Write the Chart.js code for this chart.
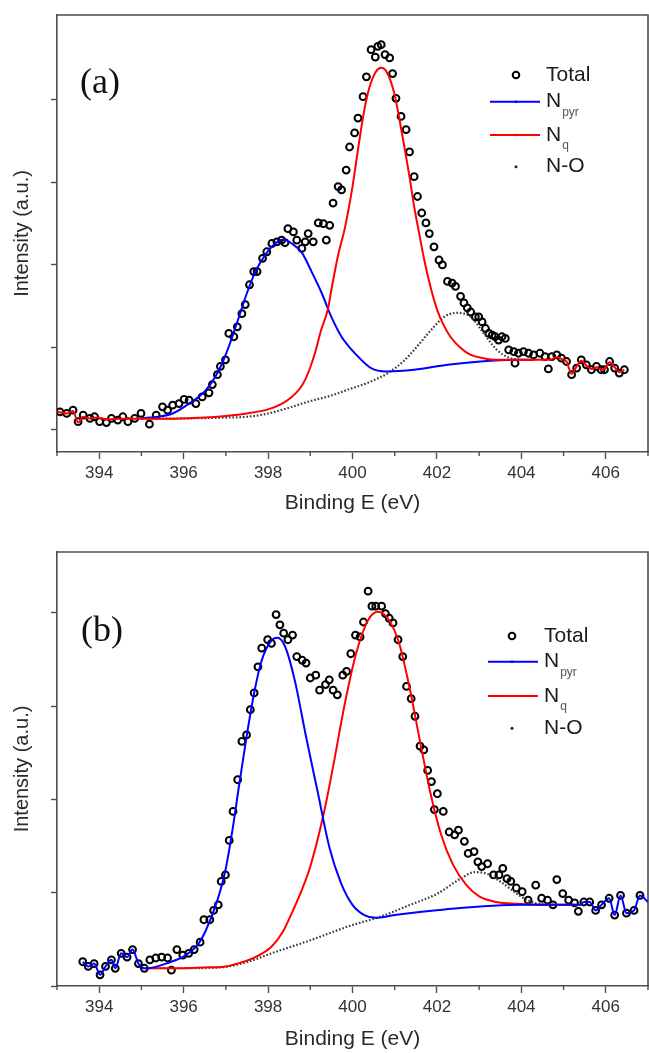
<!DOCTYPE html>
<html><head><meta charset="utf-8">
<script src="https://cdn.jsdelivr.net/npm/chart.js@4/dist/chart.umd.min.js"></script>
<style>
html,body{margin:0;padding:0;background:#fff;}
#wrap{position:relative;width:649px;height:1053px;overflow:hidden;background:#fff;}
canvas{position:absolute;left:0;}
</style></head><body>
<div id="wrap">
<canvas id="ca" width="649" height="527" style="top:0px"></canvas>
<canvas id="cb" width="649" height="526" style="top:527px"></canvas>
</div>
<script>
// ---------- data ----------
const energyTicks = [394,396,398,400,402,404,406];
const energyMinorTicks = [393,395,397,399,401,403,405,407];
const intensityTicks = [0,1,2,3,4];
const seriesNames = ['Total','N','N','N-O'];
const seriesSubs = ['','pyr','q',''];

// panel (a)
const totalA = [[393.07,0.22],[393.23,0.20],[393.38,0.24],[393.50,0.10],[393.62,0.18],[393.78,0.14],[393.89,0.16],[394.01,0.10],[394.17,0.09],[394.29,0.14],[394.44,0.12],[394.56,0.16],[394.68,0.10],[394.84,0.14],[394.99,0.20],[395.19,0.07],[395.35,0.18],[395.50,0.28],[395.62,0.24],[395.74,0.30],[395.89,0.32],[396.01,0.37],[396.13,0.36],[396.29,0.32],[396.44,0.40],[396.60,0.45],[396.68,0.55],[396.80,0.67],[396.87,0.77],[396.99,0.85],[397.07,1.17],[397.19,1.13],[397.27,1.25],[397.38,1.41],[397.46,1.52],[397.56,1.76],[397.66,1.92],[397.74,1.92],[397.87,2.08],[397.97,2.16],[398.09,2.26],[398.21,2.28],[398.32,2.30],[398.40,2.27],[398.47,2.44],[398.60,2.40],[398.68,2.30],[398.80,2.20],[398.88,2.28],[398.95,2.38],[399.07,2.28],[399.19,2.51],[399.31,2.50],[399.38,2.30],[399.46,2.48],[399.54,2.75],[399.66,2.95],[399.74,2.91],[399.85,3.15],[399.93,3.43],[400.05,3.60],[400.13,3.78],[400.25,4.04],[400.33,4.28],[400.44,4.61],[400.54,4.52],[400.60,4.65],[400.68,4.67],[400.77,4.55],[400.88,4.51],[400.95,4.32],[401.03,4.02],[401.15,3.80],[401.27,3.64],[401.35,3.37],[401.46,3.07],[401.54,2.83],[401.64,2.63],[401.74,2.51],[401.82,2.38],[401.93,2.22],[402.05,2.06],[402.13,2.00],[402.25,1.80],[402.36,1.78],[402.44,1.74],[402.56,1.62],[402.64,1.54],[402.72,1.48],[402.80,1.43],[402.91,1.37],[402.99,1.37],[403.07,1.31],[403.15,1.23],[403.23,1.17],[403.31,1.15],[403.38,1.13],[403.46,1.09],[403.54,1.13],[403.62,1.11],[403.70,0.97],[403.82,0.95],[403.85,0.81],[403.93,0.93],[404.05,0.95],[404.17,0.93],[404.29,0.91],[404.44,0.93],[404.56,0.89],[404.64,0.74],[404.72,0.89],[404.84,0.91],[404.95,0.87],[405.07,0.83],[405.19,0.67],[405.31,0.75],[405.42,0.85],[405.54,0.79],[405.66,0.73],[405.78,0.77],[405.89,0.73],[405.97,0.73],[406.09,0.83],[406.21,0.75],[406.32,0.69],[406.44,0.73]];
const pyrA = [[395.0,0.145],[395.2,0.15],[395.74,0.20],[396.13,0.32],[396.52,0.48],[396.84,0.73],[397.07,1.01],[397.31,1.37],[397.50,1.66],[397.70,1.92],[397.93,2.12],[398.17,2.26],[398.36,2.31],[398.56,2.26],[398.80,2.15],[399.03,1.92],[399.27,1.66],[399.50,1.37],[399.74,1.13],[400.13,0.89],[400.44,0.75],[400.80,0.71],[401.46,0.73],[402.25,0.79],[403.03,0.83],[403.82,0.85],[404.30,0.85]];
const qA = [[393.00,0.22],[393.12,0.21],[393.25,0.20],[393.38,0.23],[393.50,0.09],[393.62,0.16],[393.78,0.14],[393.95,0.15],[394.20,0.13],[394.50,0.135],[395.50,0.135],[396.50,0.15],[397.00,0.17],[397.50,0.20],[398.00,0.25],[398.30,0.31],[398.56,0.40],[398.75,0.50],[398.88,0.61],[399.00,0.76],[399.11,0.93],[399.25,1.20],[399.42,1.47],[399.50,1.70],[399.66,2.12],[399.82,2.45],[400.00,2.95],[400.13,3.40],[400.27,3.85],[400.40,4.15],[400.55,4.34],[400.68,4.39],[400.82,4.33],[400.99,4.08],[401.10,3.80],[401.23,3.43],[401.35,3.07],[401.46,2.71],[401.58,2.38],[401.70,2.06],[401.85,1.73],[402.01,1.45],[402.15,1.28],[402.32,1.13],[402.55,1.00],[402.80,0.91],[403.10,0.87],[403.42,0.85],[404.00,0.85],[404.68,0.85],[404.84,0.88],[404.95,0.86],[405.07,0.83],[405.19,0.68],[405.31,0.77],[405.42,0.84],[405.54,0.78],[405.66,0.74],[405.78,0.76],[405.89,0.73],[405.97,0.74],[406.09,0.82],[406.21,0.76],[406.32,0.70],[406.44,0.73]];
const noA = [[395.0,0.135],[396.0,0.14],[397.0,0.15],[397.5,0.16],[398.0,0.20],[398.5,0.27],[399.0,0.35],[399.45,0.41],[399.9,0.49],[400.4,0.58],[400.84,0.69],[401.2,0.83],[401.46,0.97],[401.86,1.21],[402.17,1.37],[402.48,1.42],[402.80,1.37],[403.11,1.17],[403.42,0.97],[403.74,0.87],[404.0,0.85]];

// panel (b)
const totalB = [[393.61,0.26],[393.74,0.21],[393.88,0.24],[394.02,0.12],[394.15,0.21],[394.29,0.28],[394.38,0.19],[394.52,0.35],[394.66,0.31],[394.79,0.39],[394.93,0.24],[395.07,0.19],[395.20,0.28],[395.34,0.30],[395.48,0.31],[395.62,0.30],[395.71,0.17],[395.84,0.39],[395.98,0.33],[396.12,0.35],[396.25,0.39],[396.39,0.47],[396.48,0.71],[396.62,0.71],[396.71,0.81],[396.82,0.87],[396.89,1.12],[396.99,1.19],[397.08,1.56],[397.17,1.87],[397.28,2.21],[397.38,2.62],[397.49,2.69],[397.58,2.96],[397.67,3.14],[397.76,3.42],[397.85,3.62],[397.99,3.71],[398.08,3.67],[398.19,3.98],[398.28,3.87],[398.37,3.78],[398.47,3.71],[398.58,3.76],[398.68,3.53],[398.81,3.49],[398.90,3.46],[399.00,3.30],[399.13,3.33],[399.22,3.17],[399.36,3.23],[399.45,3.28],[399.54,3.17],[399.64,3.12],[399.77,3.33],[399.86,3.37],[399.96,3.56],[400.07,3.76],[400.18,3.74],[400.26,3.90],[400.37,4.23],[400.46,4.07],[400.55,4.07],[400.69,4.07],[400.78,3.99],[400.87,3.94],[400.96,3.89],[401.08,3.71],[401.19,3.53],[401.28,3.21],[401.39,3.08],[401.48,2.89],[401.60,2.57],[401.69,2.53],[401.78,2.31],[401.87,2.19],[401.94,1.89],[402.01,2.06],[402.15,1.87],[402.29,1.65],[402.42,1.62],[402.51,1.67],[402.65,1.55],[402.74,1.42],[402.88,1.44],[402.97,1.33],[403.06,1.28],[403.20,1.31],[403.34,1.19],[403.47,1.19],[403.56,1.26],[403.66,1.15],[403.75,1.12],[403.88,1.05],[404.02,1.01],[404.16,0.92],[404.34,1.08],[404.48,0.94],[404.62,0.92],[404.75,0.87],[404.84,1.14],[404.98,0.99],[405.12,0.92],[405.26,0.89],[405.35,0.80],[405.48,0.90],[405.62,0.90],[405.76,0.81],[405.90,0.87],[406.08,0.94],[406.21,0.76],[406.35,0.97],[406.49,0.78],[406.67,0.81],[406.81,0.97]];
const pyrB = [[393.61,0.26],[393.74,0.21],[393.88,0.24],[394.02,0.12],[394.15,0.21],[394.29,0.28],[394.38,0.19],[394.52,0.35],[394.66,0.31],[394.79,0.39],[394.93,0.24],[395.07,0.19],[395.11,0.19],[395.58,0.24],[396.05,0.33],[396.36,0.46],[396.53,0.60],[396.80,0.92],[396.99,1.24],[397.17,1.71],[397.31,2.14],[397.49,2.67],[397.67,3.14],[397.85,3.49],[398.06,3.69],[398.22,3.73],[398.40,3.64],[398.63,3.28],[398.90,2.67],[399.18,2.07],[399.45,1.49],[399.73,1.10],[400.0,0.87],[400.28,0.76],[400.55,0.73],[401.0,0.76],[402.19,0.82],[404.02,0.87],[405.39,0.87],[405.48,0.90],[405.62,0.90],[405.76,0.81],[405.90,0.87],[406.08,0.94],[406.21,0.76],[406.35,0.97],[406.49,0.78],[406.67,0.81],[406.81,0.97],[407.0,0.90]];
const qB = [[395.1,0.19],[396.0,0.19],[396.6,0.20],[397.0,0.21],[397.35,0.25],[397.7,0.31],[398.08,0.42],[398.35,0.58],[398.54,0.76],[398.8,1.03],[399.0,1.28],[399.32,1.85],[399.54,2.35],[399.82,3.03],[400.09,3.57],[400.37,3.92],[400.6,4.01],[400.85,3.93],[401.1,3.68],[401.35,3.20],[401.6,2.62],[401.85,2.06],[402.1,1.62],[402.38,1.30],[402.7,1.08],[403.0,0.96],[403.4,0.90],[403.9,0.88],[404.5,0.87],[405.4,0.87]];
const noB = [[395.1,0.19],[396.0,0.19],[396.89,0.20],[397.53,0.26],[398.08,0.35],[399.0,0.49],[399.91,0.64],[400.64,0.74],[401.37,0.87],[402.01,0.99],[402.56,1.15],[402.9,1.22],[403.2,1.20],[403.5,1.12],[403.8,1.02],[404.1,0.93],[404.4,0.88],[404.8,0.87]];

// ---------- styling ----------
const SANS = "'Liberation Sans', Arial, sans-serif";
const SERIF = "'Liberation Serif', 'Times New Roman', serif";
const AXIS = '#4d4d4d';
const toPts = arr => arr.map(p => ({x:p[0], y:p[1]}));

const framePlugin = {
  id:'frame',
  beforeDatasetsDraw(chart){
    const {ctx, chartArea:a, scales} = chart;
    ctx.save();
    ctx.strokeStyle = AXIS; ctx.lineWidth = 1.6;
    ctx.beginPath();
    ctx.moveTo(a.left, a.top); ctx.lineTo(a.right, a.top); ctx.lineTo(a.right, a.bottom);
    ctx.stroke();
    ctx.lineWidth = 1.4;
    energyMinorTicks.forEach(v => {
      const x = scales.x.getPixelForValue(v);
      ctx.beginPath(); ctx.moveTo(x, a.bottom); ctx.lineTo(x, a.bottom + 4); ctx.stroke();
    });
    ctx.restore();
  }
};

const legendPlugin = {
  id:'xpsLegend',
  afterDraw(chart, args, o){
    const ctx = chart.ctx;
    ctx.save();
    ctx.fillStyle = '#111';
    ctx.font = '36px ' + SERIF;
    ctx.textBaseline = 'middle'; ctx.textAlign = 'left';
    ctx.fillText(o.label, o.labelX, o.labelY);
    const rows = o.rows;
    ctx.strokeStyle = '#000'; ctx.lineWidth = 2;
    ctx.beginPath(); ctx.arc(o.mx, rows[0], 3.3, 0, Math.PI*2); ctx.stroke();
    [['#0000ff',rows[1]],['#ff0000',rows[2]]].forEach(([c,y]) => {
      ctx.strokeStyle = c; ctx.lineWidth = 2;
      ctx.beginPath(); ctx.moveTo(o.l0, y); ctx.lineTo(o.l1, y); ctx.stroke();
      ctx.fillStyle = c; ctx.beginPath(); ctx.arc(o.mx, y, 1.3, 0, Math.PI*2); ctx.fill();
    });
    ctx.fillStyle = '#222'; ctx.beginPath(); ctx.arc(o.mx, rows[3], 1.5, 0, Math.PI*2); ctx.fill();
    ctx.textBaseline = 'middle';
    for (let i = 0; i < 4; i++) {
      ctx.fillStyle = '#1a1a1a';
      ctx.font = '21px ' + SANS;
      ctx.fillText(seriesNames[i], o.tx, rows[i]);
      if (seriesSubs[i]) {
        const w = ctx.measureText(seriesNames[i]).width;
        ctx.font = '12px ' + SANS;
        ctx.fillStyle = '#555';
        ctx.fillText(seriesSubs[i], o.tx + w + 1, rows[i] + 11);
      }
    }
    ctx.restore();
  }
};

function makeChart(id, d, cfg){
  const datasets = [];
  const lineDs = (label, data, color, extra) => Object.assign({
    label, data: toPts(data), showLine:true, borderColor:color, backgroundColor:color,
    borderWidth:2, pointRadius:0, cubicInterpolationMode:'monotone', fill:false
  }, extra||{});
  const blue = lineDs('Npyr', d.pyr, '#0000ff');
  const red = lineDs('Nq', d.q, '#ff0000');
  const dots = lineDs('N-O', d.no, '#3a3a3a', {borderDash:[1.6,1.9], borderWidth:2.2});
  const total = {label:'Total', data: toPts(d.total), showLine:false, pointRadius:3.4,
    pointBorderWidth:2, pointBorderColor:'#000', pointBackgroundColor:'rgba(0,0,0,0)', pointStyle:'circle'};
  if (cfg.blueOnTop) datasets.push(blue, red, dots, total); else datasets.push(red, blue, dots, total);

  return new Chart(document.getElementById(id), {
    type:'scatter',
    data:{datasets},
    plugins:[framePlugin, legendPlugin],
    options:{
      responsive:false, animation:false, devicePixelRatio:1,
      events:[],
      layout:{autoPadding:false, padding:{top:cfg.top, right:1, left:0, bottom:0}},
      plugins:{legend:{display:false}, tooltip:{enabled:false}, xpsLegend:cfg.legend},
      scales:{
        x:{type:'linear', min:393, max:407,
          afterBuildTicks: s => { s.ticks = energyTicks.map(v => ({value:v})); },
          afterFit: s => { s.height = cfg.xh; s.paddingLeft = 0; s.paddingRight = 0; },
          ticks:{font:{family:SANS, size:17}, color:'#333', padding:4, callback: v => String(v)},
          grid:{drawOnChartArea:false, drawTicks:true, tickLength:7, tickColor:AXIS, tickWidth:1.4},
          border:{color:AXIS, width:1.6},
          title:{display:true, text:'Binding E (eV)', font:{family:SANS, size:21}, color:'#2a2a2a', padding:{top:0, bottom:cfg.xtp}}
        },
        y:{type:'linear', min:cfg.ymin, max:cfg.ymax,
          afterBuildTicks: s => { s.ticks = intensityTicks.map(v => ({value:v})); },
          afterFit: s => { s.width = 57; s.paddingTop = 0; s.paddingBottom = 0; },
          ticks:{display:false},
          grid:{drawOnChartArea:false, drawTicks:true, tickLength:6, tickColor:AXIS, tickWidth:1.4},
          border:{color:AXIS, width:1.6},
          title:{display:true, text:'Intensity (a.u.)', font:{family:SANS, size:20}, color:'#2a2a2a', padding:{top:10, bottom:0}}
        }
      }
    }
  });
}

makeChart('ca', {total:totalA, pyr:pyrA, q:qA, no:noA}, {
  top:15, xh:75, xtp:11.4, ymin:-0.267, ymax:5.03, blueOnTop:false,
  legend:{label:'(a)', labelX:80, labelY:84, rows:[75,101.7,135,166.7], mx:516, l0:490, l1:540, tx:546}
});
makeChart('cb', {total:totalB, pyr:pyrB, q:qB, no:noB}, {
  top:25, xh:67, xtp:1.4, ymin:0, ymax:4.65, blueOnTop:true,
  legend:{label:'(b)', labelX:81, labelY:105, rows:[109,134.7,169,201.3], mx:512, l0:488, l1:538, tx:544}
});
</script>
</body></html>
